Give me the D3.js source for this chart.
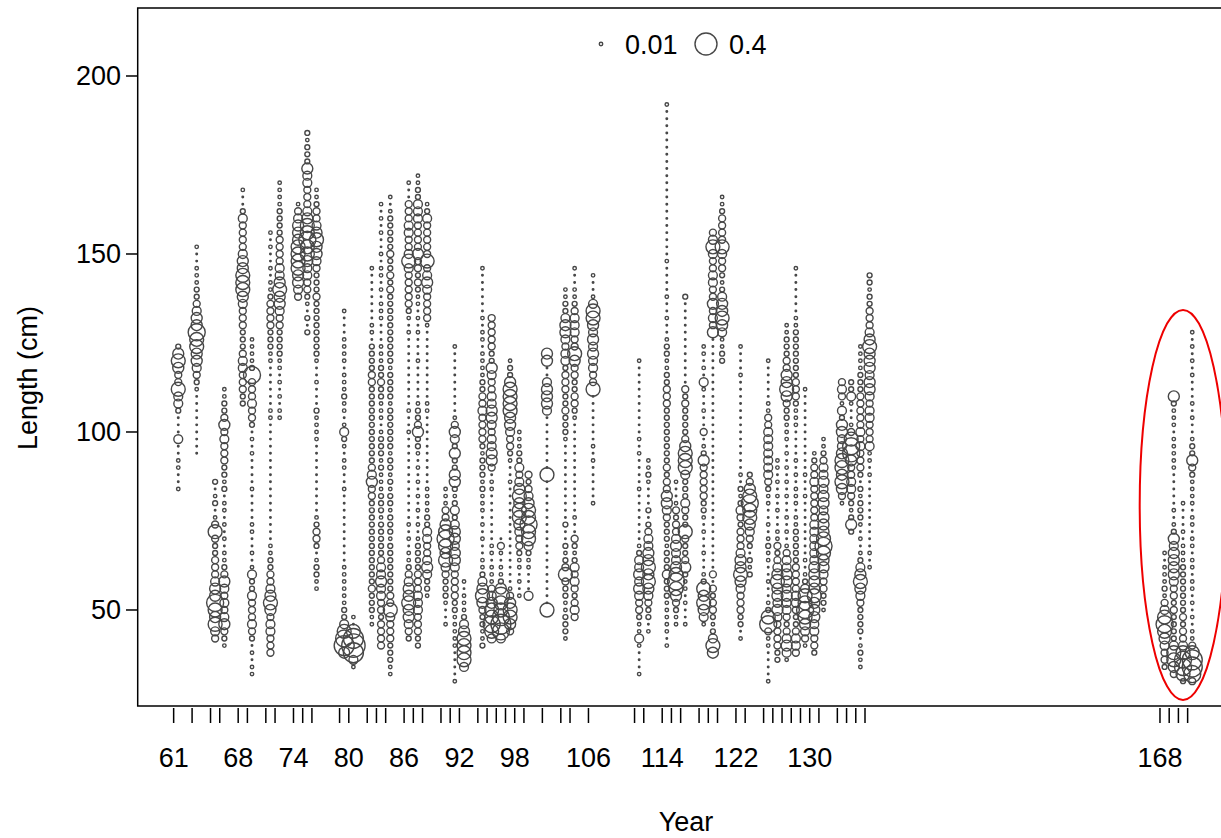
<!DOCTYPE html>
<html>
<head>
<meta charset="utf-8">
<script src="https://cdn.jsdelivr.net/npm/d3@7"></script>
<style>
  html, body { margin: 0; padding: 0; background: #fff; }
  svg { display: block; }
  text { font-family: "Liberation Sans", Arial, Helvetica, sans-serif; fill: #000; }
</style>
</head>
<body>
<svg id="chart" width="1221" height="838"></svg>
<script>
// Sampled years (bubbles are drawn at mid-year)
const years = [61,63,65,66,68,69,71,72,74,75,76,79,80,82,83,84,86,87,88,90,91,92,94,95,96,97,98,99,
  101,103,104,106,111,112,114,115,116,118,119,120,122,123,125,126,127,128,129,130,131,133,134,135,136,
  168,169,170,171];

// Smallest 2-cm length bin recorded in each year
const firstBin = [84,94,42,40,108,32,38,104,138,128,56,38,34,46,40,32,42,40,54,46,30,34,40,42,42,44,54,54,
  50,42,48,80,32,44,40,46,46,46,38,120,42,60,30,36,36,38,40,38,50,80,72,34,62,
  34,32,30,30];

// Proportion class of each successive 2-cm bin, per year
const comps = [
  "1..11..4...2446335652",
  ".........123455667554322111..1",
  "346567554333223631.21.2",
  "1235434345" + "3211.1.1.1" + "1.21223334" + "3532211",
  "2233344322" + "2333456665" + "54333342.." + "1",
  "11.1.23433" + "342241.1.." + "11....1..." + ".1.1.23343" + "33721111",
  "3334435654" + "332211...." + ".........." + "...11....." + ".112223333" + "211.1..1.1",
  "11.1.1.112" + "2223345565" + "4433332222" + "1111",
  "34556666555431",
  "2.2.123344" + "5667665433" + "344522212",
  "11221.2332" + "1........." + ".11112...1" + "..12222222" + "2322234556" + "5433211",
  "5876422111" + "111......." + "...1..11.1" + "241.112111" + ".1111...1",
  "148986.1",
  "1122232222" + "2222222233" + "5432222222" + "2222332222" + ".11.......1",
  "3333233445" + "4432222212" + "2211121222" + "1.11122322" + "111...111." + "1.11.1..1." + "1.1",
  "1122233346" + "3322222221" + "2221221212" + "2122222212" + "2221222222" + "2222323223" + "222221.1",
  "2345565543" + "211.1.1..." + ".........1" + "..1......." + "...1.12333" + "3346433443" + "33..1",
  "2233344433" + "322221.1.1" + ".1.1.1.122" + "53221....." + "1...1.1.11" + "2323353333" + "4442211",
  "1224543344" + "221111...." + "......11.." + "........13" + "3334543633" + "333421",
  "1..1222346" + "5676533111",
  "1....11111" + "2233334554" + "5542421255" + "22524531.." + ".......1",
  "4666654211" + "1.1",
  "2112235654" + "211..1.1.1" + "1121222123" + "3334332211" + "11.11.1..." + "...1",
  "4676654311" + "1.11......" + ".11.355443" + "4554433452" + "233333",
  "4787667521" + "1.13.",
  "3566531..." + ".........." + ".1..123345" + "566665221",
  "1.1.112334" + "5665654342" + "2111",
  "4...112466" + "76654323",
  "6........." + ".........6" + "........45" + "554..55",
  "1222112236" + "3212..2..." + "........12" + "2232233324" + "4345542211",
  "3432343421" + "23..1....." + "........12" + "3322335633" + "4443211..1",
  "1.....1.1." + "......6334" + "4545456641" + "..1",
  "1...141123" + "345454421." + "......1..." + ".1.1......" + "....1",
  "1.22345656" + "554432.2.." + ".1211",
  "1.11111222" + "4222122234" + "5533232222" + "2222333221" + "1221..1..1" + "....1....." + ".........." + "......1",
  "1123567654" + "45433231..1",
  "1..1.11253" + "2236223422" + "2466653222" + "2323......" + "......2",
  "14565621.." + "1..1.12233" + "333521.3.." + "1..14.1.11",
  "5642123323" + ".3.." + ".........." + ".........." + ".........." + "." + "534353344334643",
  "2211456554" + "2123346333" + "3211",
  "1.22333456" + "5543332342" + "12.1......" + ".......1...1",
  "212.234566" + "76532",
  "1....11376" + "21..1..112" + "1.1..11234" + "4444443311" + ".....1",
  "2233334545" + "565432311." + ".1.1.1.11",
  "1454323445" + "4554431.1." + "1..1.1.1.1" + ".111223565" + "53322211",
  "3443223443" + "3332222211" + ".111.1.1.." + "..11123332" + "22222211.." + "....1",
  "1345676642" + "1.1......." + ".1..1....." + "......1",
  "2334455565" + "5554444443" + "333343321",
  "1223345567" + "6555455454" + "43211",
  "1356566544" + "55241343",
  "2521234433" + "577631..1422",
  "1121.22223" + "4565421.1." + "122212.233" + "3434333332" + "221111",
  "1.1......." + "...1.11433" + "3443455455" + "5654333221" + "22",
  "2334567643" + "12111.1",
  "3566422223" + "2334555545" + "21.1.....1" + "1111.11125",
  "2677643323" + "2222222111" + ".1...1",
  "37886311.1" + ".1.11.11.1" + "1.11.11112" + "35221..1.1" + "...1.1.1.1"
];

// Proportion represented by each class symbol
const classProp = { ".": 0.002, "1": 0.01, "2": 0.02, "3": 0.04, "4": 0.065,
                    "5": 0.1, "6": 0.16, "7": 0.24, "8": 0.33, "9": 0.45 };

const binWidth = 2;
const xTickYears = years;
const xLabelYears = [61,68,74,80,86,92,98,106,114,122,130,168];
const yTicks = [50,100,150,200];
const legendProps = [0.01, 0.4];
const legendLabels = ["0.01", "0.4"];
// Highlighted block of recent years, as [first year, last year] and a length span
const highlightYears = [168, 171];
const highlightLength = [24.7, 134.3];

// Expand every year into its length-bin points
const points = [];
years.forEach((yr, i) => {
  const s = comps[i];
  for (let j = 0; j < s.length; j++) {
    const p = classProp[s[j]];
    if (p === undefined) continue;
    points.push({ year: yr + 0.5, len: firstBin[i] + binWidth * j, prop: p });
  }
});

const svg = d3.select("#chart");
const fontSize = 27;
const ink = "#474747";

const x = d3.scaleLinear().domain([57.1, 175.9]).range([137.7, 1232.8]);
const y = d3.scaleLinear().domain([23.03, 219.1]).range([706, 8]);
const r = d3.scaleSqrt().domain([0, 0.4]).range([0, 11]);

// Bubbles, smallest last so tiny points stay visible
svg.append("g")
  .selectAll("circle")
  .data(points.slice().sort((a, b) => b.prop - a.prop))
  .join("circle")
  .attr("cx", d => x(d.year))
  .attr("cy", d => y(d.len))
  .attr("r", d => r(d.prop))
  .attr("fill", "none")
  .attr("stroke", ink)
  .attr("stroke-width", 1.4);

// Plot frame
svg.append("rect")
  .attr("x", x.range()[0]).attr("y", y.range()[1])
  .attr("width", x.range()[1] - x.range()[0])
  .attr("height", y.range()[0] - y.range()[1])
  .attr("fill", "none").attr("stroke", "#000").attr("stroke-width", 1.5);

// X axis: tick for every sampled year, labels on a subset
const xAxis = svg.append("g");
xAxis.selectAll("line")
  .data(xTickYears)
  .join("line")
  .attr("x1", d => x(d)).attr("x2", d => x(d))
  .attr("y1", 708).attr("y2", 723)
  .attr("stroke", "#000").attr("stroke-width", 1.5);
xAxis.selectAll("text")
  .data(xLabelYears)
  .join("text")
  .attr("x", d => x(d)).attr("y", 767)
  .attr("text-anchor", "middle")
  .attr("font-size", fontSize)
  .text(d => d);

// Y axis
const yAxis = svg.append("g");
yAxis.selectAll("line")
  .data(yTicks)
  .join("line")
  .attr("x1", 126).attr("x2", 137)
  .attr("y1", d => y(d)).attr("y2", d => y(d))
  .attr("stroke", "#000").attr("stroke-width", 1.5);
yAxis.selectAll("text")
  .data(yTicks)
  .join("text")
  .attr("x", 121).attr("y", d => y(d) + 9.5)
  .attr("text-anchor", "end")
  .attr("font-size", fontSize)
  .text(d => d);

// Axis titles
svg.append("text")
  .attr("x", 686).attr("y", 831)
  .attr("text-anchor", "middle").attr("font-size", fontSize)
  .text("Year");
svg.append("text")
  .attr("transform", "translate(37,378) rotate(-90)")
  .attr("text-anchor", "middle").attr("font-size", fontSize)
  .text("Length (cm)");

// Size legend
const legendX = [601, 706];
const legendTextX = [625, 729];
const legend = svg.append("g");
legendProps.forEach((p, i) => {
  legend.append("circle")
    .attr("cx", legendX[i]).attr("cy", 44)
    .attr("r", r(p))
    .attr("fill", "none").attr("stroke", ink).attr("stroke-width", 1.4);
  legend.append("text")
    .attr("x", legendTextX[i]).attr("y", 53.5)
    .attr("font-size", fontSize)
    .text(legendLabels[i]);
});

// Highlight around the recent survey years
const hx0 = x(highlightYears[0] - 2.2), hx1 = x(highlightYears[1] + 4.2);
const hy0 = y(highlightLength[1]), hy1 = y(highlightLength[0]);
svg.append("ellipse")
  .attr("cx", (hx0 + hx1) / 2).attr("cy", (hy0 + hy1) / 2)
  .attr("rx", (hx1 - hx0) / 2).attr("ry", (hy1 - hy0) / 2)
  .attr("fill", "none").attr("stroke", "#ee0000").attr("stroke-width", 2);
</script>
</body>
</html>
